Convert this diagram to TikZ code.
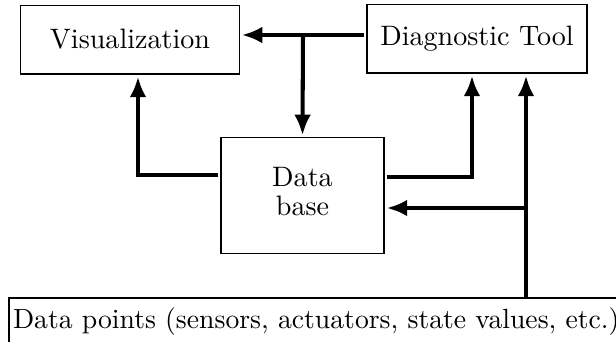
\documentclass[tikz,border=0pt]{standalone}
\usetikzlibrary{arrows.meta}
\begin{document}
\begin{tikzpicture}[x=0.37pt,y=-0.37pt,
  box/.style={draw,line width=0.4pt,outer sep=1pt,inner sep=0pt,align=center,font={\fontsize{10.4pt}{10.8pt}\selectfont}},
  arr/.style={line width=1.5pt,-{Latex[length=7.6pt,width=6.2pt]}},
  ln/.style={line width=1.5pt}]
\useasboundingbox (0,0) rectangle (616,341);
\node[box,minimum width=80.7pt,minimum height=25.5pt] (vis) at (130,39.5) {Visualization};
\node[box,minimum width=81.4pt,minimum height=25.5pt] (diag) at (477,38.5) {Diagnostic Tool};
\node[box,minimum width=60.3pt,minimum height=42.6pt] (db) at (302.5,195.5) {Data\\base\rule[-3.3pt]{0pt}{3.3pt}};
\node[box,anchor=north west,inner xsep=1.5pt,inner ysep=0pt,outer sep=0pt,text width=235pt,align=left,text height=11.1pt,text depth=20pt,font={\fontsize{10.25pt}{10.8pt}\selectfont}] (dp) at (9,298) {Data points (sensors, actuators, state values, etc.)};
\coordinate (jn) at (303,35);
\coordinate (l1) at (138,175);
\coordinate (r1) at (472,177);
\coordinate (r2) at (526,208);
\draw[arr] (diag.west |- jn) -- (vis.east |- jn);
\draw[arr] (jn) -- (db.north);
\draw[arr] (db.west |- l1) -- (l1) -- (vis.south -| l1);
\draw[arr] (db.east |- r1) -- (r1) -- (diag.south -| r1);
\draw[arr] (dp.north -| r2) -- (diag.south -| r2);
\draw[arr] (r2) -- (db.east |- r2);
\end{tikzpicture}
\end{document}
